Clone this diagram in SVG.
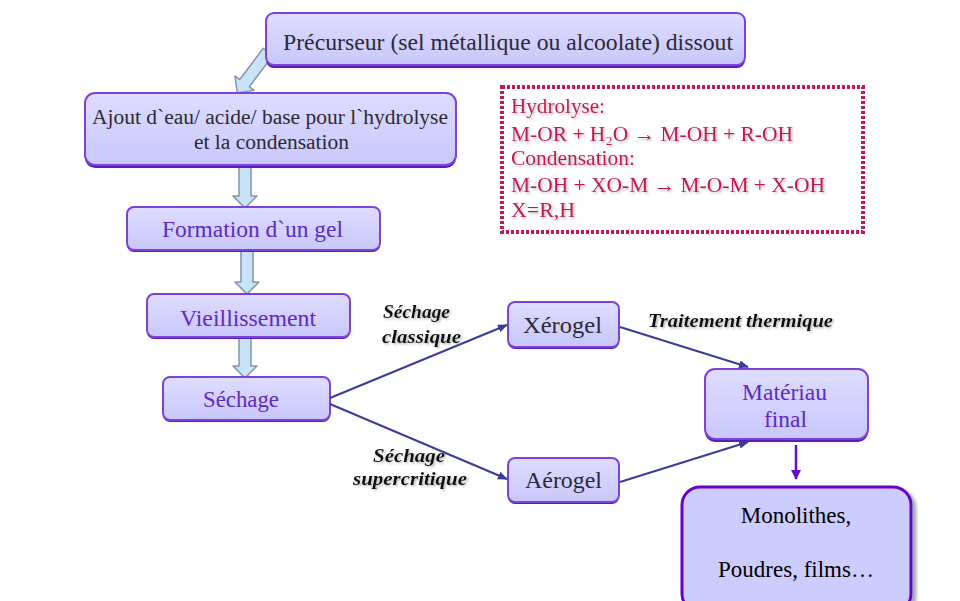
<svg xmlns="http://www.w3.org/2000/svg" width="960" height="601" viewBox="0 0 960 601">
<defs>
<linearGradient id="boxg" x1="0" y1="0" x2="0" y2="1">
<stop offset="0" stop-color="#dedcff"/>
<stop offset="1" stop-color="#c9c7fa"/>
</linearGradient>
<filter id="tsh" x="-10%" y="-30%" width="120%" height="160%">
<feDropShadow dx="1.5" dy="1.5" stdDeviation="0.8" flood-color="#888" flood-opacity="0.6"/>
</filter>
<filter id="bsh" x="-10%" y="-10%" width="130%" height="130%">
<feDropShadow dx="4" dy="3" stdDeviation="1.5" flood-color="#777" flood-opacity="0.6"/>
</filter>
<marker id="ah" viewBox="0 0 10 10" refX="9" refY="5" markerWidth="5" markerHeight="5" orient="auto">
<path d="M0,1 L10,5 L0,9 z" fill="#3b3b98"/>
</marker>
<marker id="ahp" viewBox="0 0 10 10" refX="9" refY="5" markerWidth="4" markerHeight="4" orient="auto">
<path d="M0,0 L10,5 L0,10 z" fill="#6a0ccc"/>
</marker>
</defs>
<style>
.box{fill:url(#boxg);stroke:#7b44d6;stroke-width:2}
.bshadow{fill:#5a1cb8}
text{font-family:"Liberation Serif",Tinos,"Times New Roman","DejaVu Serif","Noto Serif",serif}
.dark{fill:#2a2a36}
.pur{fill:#5e2ac4}
.red{fill:#c2185b;font-size:22px}
.lab{font-weight:bold;font-style:italic;font-size:19px;fill:#111}
.blk{fill:#c8e3f7;stroke:#8394aa;stroke-width:1.5;stroke-linejoin:round}
.con{stroke:#3b3b98;stroke-width:2;fill:none}
</style>

<g id="block-arrows">
<polygon class="blk" transform="translate(268,52) rotate(127)" points="0,-6 39,-6 39,-12 51,0 39,12 39,6 0,6"/>
<polygon class="blk" points="239,166 251,166 251,196 257,196 245,208 233,196 239,196"/>
<polygon class="blk" points="241,251 253,251 253,282 259,282 247,294 235,282 241,282"/>
<polygon class="blk" points="239,338 251,338 251,366 257,366 245,378 233,366 239,366"/>
</g>

<g id="n-precurseur">
<rect class="bshadow" x="266" y="15" width="479" height="53" rx="8"/>
<rect class="box" x="266" y="13" width="479" height="52" rx="8"/>
<text class="dark" x="283" y="50" font-size="23" textLength="450" lengthAdjust="spacingAndGlyphs">Précurseur (sel métallique ou alcoolate) dissout</text>
</g>

<g id="n-ajout">
<rect class="bshadow" x="85" y="94" width="371" height="74" rx="10"/>
<rect class="box" x="85" y="93" width="371" height="72" rx="10"/>
<text class="dark" x="92" y="124" font-size="20" textLength="356" lengthAdjust="spacingAndGlyphs">Ajout d`eau/ acide/ base pour l`hydrolyse</text>
<text class="dark" x="194" y="149" font-size="20" textLength="155" lengthAdjust="spacingAndGlyphs">et la condensation</text>
</g>

<g id="n-formation">
<rect class="bshadow" x="127" y="209" width="253" height="43" rx="7"/>
<rect class="box" x="127" y="207" width="253" height="43" rx="7"/>
<text class="pur" x="162" y="237" font-size="23" textLength="181" lengthAdjust="spacingAndGlyphs">Formation d`un gel</text>
</g>

<g id="n-vieillissement">
<rect class="bshadow" x="147" y="296" width="203" height="43" rx="7"/>
<rect class="box" x="147" y="294" width="203" height="43" rx="7"/>
<text class="pur" x="180" y="326" font-size="23" textLength="136" lengthAdjust="spacingAndGlyphs">Vieillissement</text>
</g>

<g id="n-sechage">
<rect class="bshadow" x="163" y="379" width="167" height="43" rx="7"/>
<rect class="box" x="163" y="377" width="167" height="43" rx="7"/>
<text class="pur" x="203" y="407" font-size="23" textLength="76" lengthAdjust="spacingAndGlyphs">Séchage</text>
</g>

<g id="n-reactions">
<rect x="502" y="87" width="361" height="145" fill="#ffffff" stroke="#c8185a" stroke-width="4" stroke-dasharray="3 2"/>
<g filter="url(#tsh)">
<text class="red" x="511" y="113" textLength="94" lengthAdjust="spacingAndGlyphs">Hydrolyse:</text>
<text class="red" x="511" y="141" textLength="282" lengthAdjust="spacingAndGlyphs">M-OR + H₂O → M-OH + R-OH</text>
<text class="red" x="511" y="165" textLength="124" lengthAdjust="spacingAndGlyphs">Condensation:</text>
<text class="red" x="511" y="192" textLength="314" lengthAdjust="spacingAndGlyphs">M-OH + XO-M → M-O-M + X-OH</text>
<text class="red" x="511" y="217" textLength="64" lengthAdjust="spacingAndGlyphs">X=R,H</text>
</g>
</g>

<g id="n-xerogel">
<rect class="bshadow" x="508" y="304" width="111" height="45" rx="7"/>
<rect class="box" x="508" y="302" width="111" height="45" rx="7"/>
<text class="dark" x="523" y="333" font-size="23" textLength="79" lengthAdjust="spacingAndGlyphs">Xérogel</text>
</g>

<g id="n-aerogel">
<rect class="bshadow" x="508" y="460" width="111" height="44" rx="7"/>
<rect class="box" x="508" y="458" width="111" height="44" rx="7"/>
<text class="dark" x="525" y="488" font-size="23" textLength="77" lengthAdjust="spacingAndGlyphs">Aérogel</text>
</g>

<g id="n-materiau">
<rect class="bshadow" x="705" y="371" width="163" height="71" rx="10"/>
<rect class="box" x="705" y="369" width="163" height="70" rx="10"/>
<text class="pur" x="742" y="400" font-size="23" textLength="85" lengthAdjust="spacingAndGlyphs">Matériau</text>
<text class="pur" x="764" y="427" font-size="23" textLength="43" lengthAdjust="spacingAndGlyphs">final</text>
</g>

<g id="n-produits">
<rect x="682" y="487" width="229" height="125" rx="18" fill="#ccccff" stroke="#6600cc" stroke-width="3" filter="url(#bsh)"/>
<text x="796" y="523" text-anchor="middle" font-size="23" fill="#000">Monolithes,</text>
<text x="796" y="577" text-anchor="middle" font-size="23" fill="#000">Poudres, films…</text>
</g>

<g id="connectors">
<line class="con" x1="330" y1="398" x2="507" y2="325" marker-end="url(#ah)"/>
<line class="con" x1="330" y1="404" x2="507" y2="479" marker-end="url(#ah)"/>
<line class="con" x1="620" y1="327" x2="748" y2="367" marker-end="url(#ah)"/>
<line class="con" x1="620" y1="482" x2="748" y2="442" marker-end="url(#ah)"/>
<line x1="796" y1="445" x2="796" y2="479" stroke="#6a0ccc" stroke-width="2.5" marker-end="url(#ahp)"/>
</g>

<g id="labels" filter="url(#tsh)">
<text class="lab" x="383" y="318" textLength="67" lengthAdjust="spacingAndGlyphs">Séchage</text>
<text class="lab" x="382" y="343" textLength="79" lengthAdjust="spacingAndGlyphs">classique</text>
<text class="lab" x="373" y="462" textLength="72" lengthAdjust="spacingAndGlyphs">Séchage</text>
<text class="lab" x="353" y="485" textLength="114" lengthAdjust="spacingAndGlyphs">supercritique</text>
<text class="lab" x="648" y="327" textLength="185" lengthAdjust="spacingAndGlyphs">Traitement thermique</text>
</g>
</svg>
